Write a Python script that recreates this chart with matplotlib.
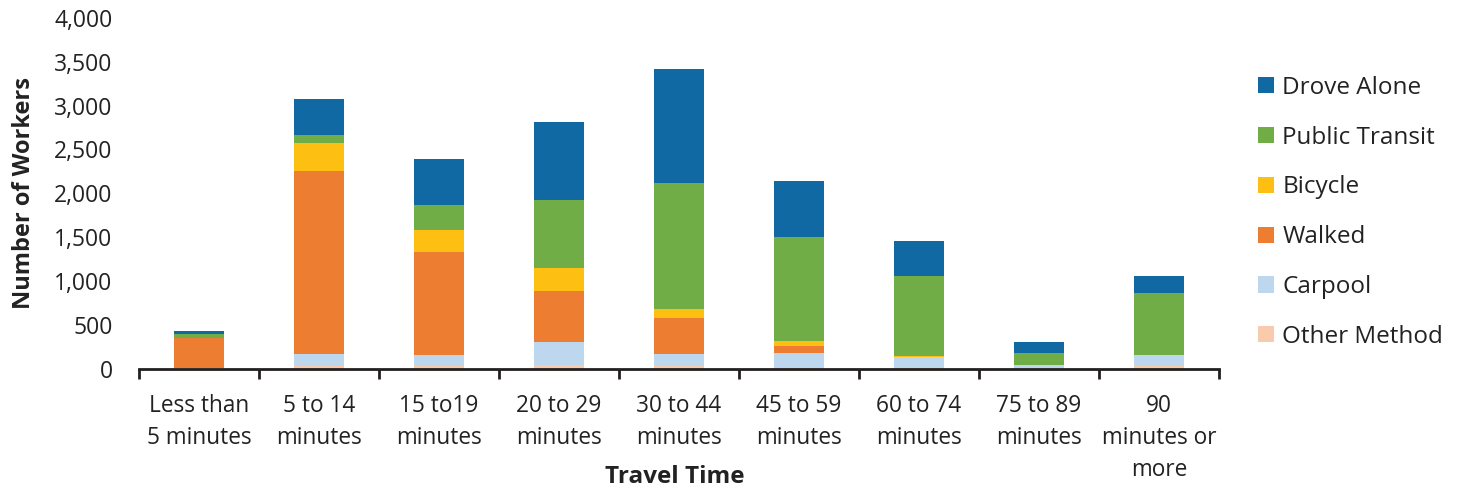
import matplotlib
matplotlib.use("Agg")
import matplotlib.pyplot as plt
import numpy as np

categories = ["Less than\n5 minutes", "5 to 14\nminutes", "15 to19\nminutes",
              "20 to 29\nminutes", "30 to 44\nminutes", "45 to 59\nminutes",
              "60 to 74\nminutes", "75 to 89\nminutes", "90\nminutes or\nmore"]

other_method   = [3, 32, 32, 40, 29, 5, 5, 0, 29]
carpool        = [5, 133, 122, 262, 136, 170, 124, 38, 125]
walked         = [341, 2089, 1175, 582, 411, 80, 0, 0, 0]
bicycle        = [0, 315, 251, 263, 103, 57, 15, 0, 0]
public_transit = [42, 91, 286, 776, 1438, 1186, 912, 137, 707]
drove_alone    = [34, 411, 524, 890, 1301, 639, 400, 125, 194]

series_names = ["Other Method", "Carpool", "Walked", "Bicycle", "Public Transit", "Drove Alone"]
series_vals = [other_method, carpool, walked, bicycle, public_transit, drove_alone]
colors = ["#F8CBAD", "#BDD7EE", "#ED7D31", "#FDBF12", "#70AD47", "#1169A4"]

yticks = [0, 500, 1000, 1500, 2000, 2500, 3000, 3500, 4000]

W, H = 1462, 492
fig = plt.figure(figsize=(W / 100, H / 100), dpi=100)
ax = fig.add_axes([139 / W, 1 - 368.5 / H, (1219 - 139) / W, (368.5 - 18) / H])

x = np.arange(len(categories))
bottom = np.zeros(len(categories))
handles = []
for name, vals, c in zip(series_names, series_vals, colors):
    v = np.array(vals, dtype=float)
    b = ax.bar(x, v, width=0.41, bottom=bottom, color=c, label=name, linewidth=0)
    handles.append(b)
    bottom += v

ax.set_xlim(-0.5, len(categories) - 0.5)
ax.set_ylim(0, 4000)
ax.set_yticks(yticks)
ax.set_yticklabels([f"{t:,}" for t in yticks], fontfamily="Open Sans", fontsize=16.5, color="#222222")
ax.tick_params(axis="y", length=0, pad=19)

ax.set_xticks(x)
ax.set_xticklabels(categories, fontfamily="Open Sans", fontsize=16.3, color="#222222", linespacing=1.45)
ax.set_xticks(np.arange(len(categories) + 1) - 0.5, minor=True)
ax.tick_params(axis="x", which="major", length=0, pad=18)
ax.tick_params(axis="x", which="minor", length=7, width=2, color="#231F20")

for s in ["top", "right", "left"]:
    ax.spines[s].set_visible(False)
ax.spines["bottom"].set_color("#231F20")
ax.spines["bottom"].set_linewidth(2)

ax.set_ylabel("Number of Workers", fontfamily="Open Sans", fontweight="bold", fontsize=17,
              color="#222222", labelpad=13)
fig.text(675 / W, 1 - 477 / H, "Travel Time", fontfamily="Open Sans", fontweight="bold",
         fontsize=17.5, color="#222222", ha="center", va="center")

leg = ax.legend(handles[::-1], series_names[::-1], loc="upper left",
                bbox_to_anchor=(1236 / W, 1 - 54 / H), bbox_transform=fig.transFigure,
                frameon=False, prop={"family": "Open Sans", "size": 17.5},
                handlelength=0.65, handleheight=0.65, handletextpad=0.35, labelspacing=1.06)
for t in leg.get_texts():
    t.set_color("#222222")

fig.savefig("out.png", dpi=100)
